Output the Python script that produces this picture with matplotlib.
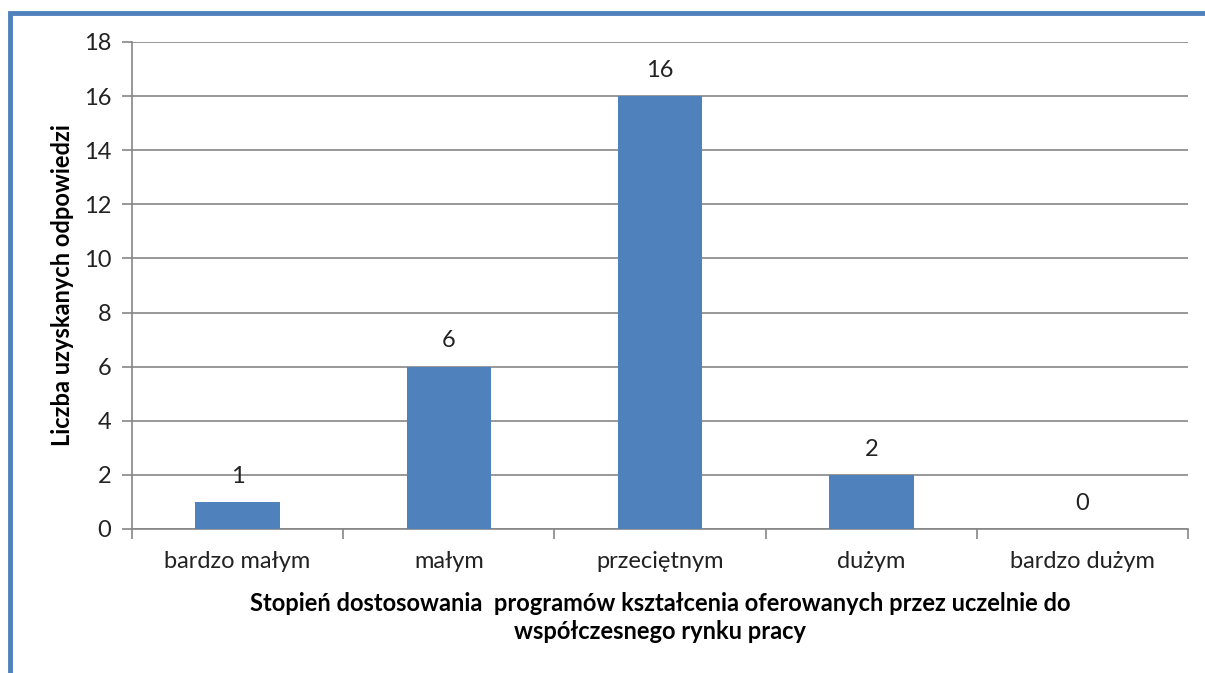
import matplotlib.pyplot as plt
from matplotlib.patches import Rectangle

categories = ['bardzo małym', 'małym', 'przeciętnym', 'dużym', 'bardzo dużym']
values = [1, 6, 16, 2, 0]
yticks = [0, 2, 4, 6, 8, 10, 12, 14, 16, 18]

plt.rcParams['font.family'] = ['Lato', 'DejaVu Sans']

fig = plt.figure(figsize=(12.05, 6.73), dpi=100)
ax = fig.add_axes([0.1095, 0.214, 0.8765, 0.7236])

x = range(len(categories))
ax.bar(x, values, width=0.4, color='#4F81BD', zorder=3)
for i, v in enumerate(values):
    ax.annotate(str(v), (i, v), xytext=(0, 11), textcoords='offset points',
                ha='center', va='bottom', fontsize=17, color='#222222')

ax.set_xlim(-0.5, len(categories) - 0.5)
ax.set_ylim(0, 18)
ax.set_yticks(yticks)
ax.set_yticklabels([str(t) for t in yticks], fontsize=17, color='#222222')
ax.set_xticks(list(x))
ax.set_xticklabels(categories, fontsize=17, color='#222222')
ax.tick_params(axis='x', length=0, pad=16)
ax.tick_params(axis='y', length=7, color='#868686', width=1.2, pad=8)
ax.set_xticks([i - 0.5 for i in range(len(categories) + 1)], minor=True)
ax.tick_params(axis='x', which='minor', length=7, color='#868686', width=1.2)

ax.grid(axis='y', color='#868686', linewidth=1.2, zorder=0)
for s in ['top', 'right']:
    ax.spines[s].set_visible(False)
for s in ['left', 'bottom']:
    ax.spines[s].set_color('#868686')
    ax.spines[s].set_linewidth(1.2)

ax.set_ylabel('Liczba uzyskanych odpowiedzi', fontsize=17, fontweight='bold', labelpad=7)
ax.set_xlabel('Stopień dostosowania  programów kształcenia oferowanych przez uczelnie do\nwspółczesnego rynku pracy',
              fontsize=17, fontweight='bold', labelpad=14, linespacing=1.3)

# blue frame around chart area (cut off on right and bottom)
fig.patches.append(Rectangle((10 / 1205, -0.1), 1.2, 1 - 13 / 673 + 0.1,
                             transform=fig.transFigure, fill=False,
                             edgecolor='#4F81BD', linewidth=3.5))

fig.savefig('out.png', dpi=100)
